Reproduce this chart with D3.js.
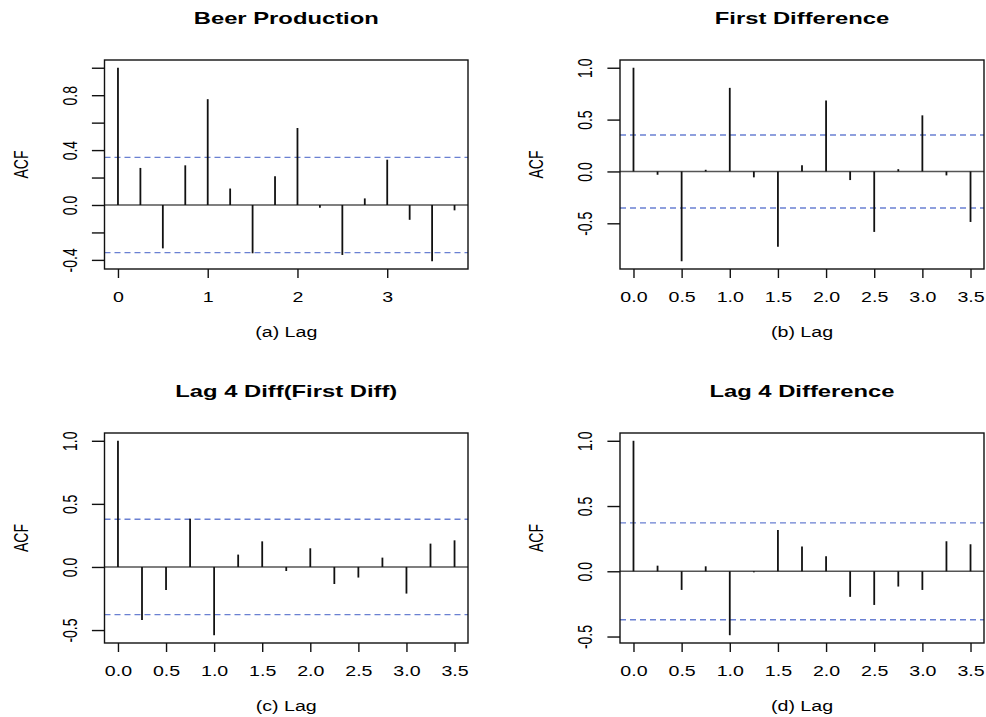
<!DOCTYPE html>
<html lang="en">
<head>
  <meta charset="UTF-8">
  <title>ACF plots</title>
  <script src="https://d3js.org/d3.v7.min.js"></script>
  <style>
    body { margin: 0; background: #fff; }
    svg text { font-family: "Liberation Sans", Arial, Helvetica, sans-serif; fill: #000; }
  </style>
</head>
<body>
  <svg width="986" height="717"></svg>
  <script>
    // lags (in years) for each panel
    const lagsBeer = [0, 0.25, 0.5, 0.75, 1, 1.25, 1.5, 1.75, 2, 2.25, 2.5, 2.75, 3, 3.25, 3.5, 3.75];
    const lagsDiff = [0, 0.25, 0.5, 0.75, 1, 1.25, 1.5, 1.75, 2, 2.25, 2.5, 2.75, 3, 3.25, 3.5];

    // autocorrelations
    const acfBeer = [1.0, 0.27, -0.316, 0.289, 0.771, 0.12, -0.352, 0.21, 0.561, -0.02, -0.364, 0.048, 0.33, -0.108, -0.41, -0.039];
    const acfFirstDiff = [1.0, -0.032, -0.866, 0.016, 0.806, -0.057, -0.726, 0.06, 0.685, -0.083, -0.583, 0.022, 0.541, -0.038, -0.487];
    const acfLag4FirstDiff = [1.0, -0.42, -0.182, 0.383, -0.541, 0.098, 0.203, -0.032, 0.148, -0.135, -0.084, 0.074, -0.211, 0.185, 0.211];
    const acfLag4Diff = [1.0, 0.043, -0.143, 0.038, -0.49, -0.008, 0.316, 0.189, 0.115, -0.196, -0.258, -0.117, -0.143, 0.23, 0.207];

    // confidence bounds (+/-)
    const ciBeer = 0.347, ciFirstDiff = 0.352, ciLag4FirstDiff = 0.378, ciLag4Diff = 0.371;

    const titles = ["Beer Production", "First Difference", "Lag 4 Diff(First Diff)", "Lag 4 Difference"];
    const xTitles = ["(a) Lag", "(b) Lag", "(c) Lag", "(d) Lag"];

    // tick values and labels
    const yTicksBeer = [-0.4, -0.2, 0, 0.2, 0.4, 0.6, 0.8, 1.0];
    const yTickLabelsBeer = ["-0.4", "", "0.0", "", "0.4", "", "0.8", ""];
    const yTicksHalf = [-0.5, 0, 0.5, 1.0];
    const yTickLabelsHalf = ["-0.5", "0.0", "0.5", "1.0"];
    const xTicksBeer = [0, 1, 2, 3];
    const xTickLabelsBeer = ["0", "1", "2", "3"];
    const xTicksHalf = [0, 0.5, 1, 1.5, 2, 2.5, 3, 3.5];
    const xTickLabelsHalf = ["0.0", "0.5", "1.0", "1.5", "2.0", "2.5", "3.0", "3.5"];

    const svg = d3.select("svg");
    const SX = 1.4; // the original picture is stretched sideways
    const ciColor = "#6a80d2";

    const panels = [
      { lags: lagsBeer, acf: acfBeer, ci: ciBeer, title: titles[0], xTitle: xTitles[0],
        yTicks: yTicksBeer, yLabels: yTickLabelsBeer, xTicks: xTicksBeer, xLabels: xTickLabelsBeer,
        x0: 104.5, x1: 468, y0: 60, y1: 269 },
      { lags: lagsDiff, acf: acfFirstDiff, ci: ciFirstDiff, title: titles[1], xTitle: xTitles[1],
        yTicks: yTicksHalf, yLabels: yTickLabelsHalf, xTicks: xTicksHalf, xLabels: xTickLabelsHalf,
        x0: 620, x1: 984, y0: 60, y1: 269 },
      { lags: lagsDiff, acf: acfLag4FirstDiff, ci: ciLag4FirstDiff, title: titles[2], xTitle: xTitles[2],
        yTicks: yTicksHalf, yLabels: yTickLabelsHalf, xTicks: xTicksHalf, xLabels: xTickLabelsHalf,
        x0: 104.5, x1: 468, y0: 433, y1: 643 },
      { lags: lagsDiff, acf: acfLag4Diff, ci: ciLag4Diff, title: titles[3], xTitle: xTitles[3],
        yTicks: yTicksHalf, yLabels: yTickLabelsHalf, xTicks: xTicksHalf, xLabels: xTickLabelsHalf,
        x0: 620, x1: 984, y0: 433, y1: 643 }
    ];

    // R-style 4% padding of the data range
    const pad = e => [e[0] - 0.04 * (e[1] - e[0]), e[1] + 0.04 * (e[1] - e[0])];

    panels.forEach(p => {
      const g = svg.append("g");

      const x = d3.scaleLinear()
                  .domain(pad(d3.extent(p.lags)))
                  .range([p.x0, p.x1]);

      const y = d3.scaleLinear()
                  .domain(pad([Math.min(d3.min(p.acf), -p.ci), Math.max(d3.max(p.acf), p.ci)]))
                  .range([p.y1, p.y0]);

      // zero line
      g.append("line")
       .attr("x1", p.x0).attr("x2", p.x1)
       .attr("y1", y(0)).attr("y2", y(0))
       .attr("stroke", "#555").attr("stroke-width", 1.4);

      // confidence bounds
      g.selectAll(".ci")
       .data([p.ci, -p.ci])
       .enter().append("line")
       .attr("class", "ci")
       .attr("x1", p.x0).attr("x2", p.x1)
       .attr("y1", d => y(d)).attr("y2", d => y(d))
       .attr("stroke", ciColor)
       .attr("stroke-width", 1.4)
       .attr("stroke-dasharray", "6,4");

      // spikes
      g.selectAll(".spike")
       .data(p.acf)
       .enter().append("line")
       .attr("class", "spike")
       .attr("x1", (d, i) => x(p.lags[i])).attr("x2", (d, i) => x(p.lags[i]))
       .attr("y1", y(0)).attr("y2", d => y(d))
       .attr("stroke", "#111").attr("stroke-width", 1.8);

      // box
      g.append("rect")
       .attr("x", p.x0).attr("y", p.y0)
       .attr("width", p.x1 - p.x0).attr("height", p.y1 - p.y0)
       .attr("fill", "none").attr("stroke", "#111").attr("stroke-width", 1.4);

      // x axis
      g.append("g")
       .attr("transform", `translate(0,${p.y1})`)
       .call(d3.axisBottom(x)
               .tickValues(p.xTicks)
               .tickFormat((d, i) => p.xLabels[i])
               .tickSize(9).tickSizeOuter(0))
       .attr("font-family", null).attr("font-size", 14)
       .call(a => a.select(".domain").remove())
       .call(a => a.selectAll("line").attr("stroke", "#111").attr("stroke-width", 1.4))
       .call(a => a.selectAll("text")
                   .attr("y", 0).attr("dy", null)
                   .attr("transform", `translate(0,33) scale(${SX},1)`));

      // y axis
      g.append("g")
       .attr("transform", `translate(${p.x0},0)`)
       .call(d3.axisLeft(y)
               .tickValues(p.yTicks)
               .tickFormat((d, i) => p.yLabels[i])
               .tickSize(12.6).tickSizeOuter(0))
       .attr("font-family", null).attr("font-size", 14)
       .call(a => a.select(".domain").remove())
       .call(a => a.selectAll("line").attr("stroke", "#111").attr("stroke-width", 1.4))
       .call(a => a.selectAll("text")
                   .attr("x", 0).attr("dy", null)
                   .attr("text-anchor", "middle")
                   .attr("transform", `translate(-28,0) scale(${SX},1) rotate(-90)`));

      // titles
      g.append("text")
       .attr("transform", `translate(${(p.x0 + p.x1) / 2},${p.y0 - 36}) scale(${SX},1)`)
       .attr("text-anchor", "middle")
       .attr("font-size", 17).attr("font-weight", "bold")
       .text(p.title);

      g.append("text")
       .attr("transform", `translate(${(p.x0 + p.x1) / 2},${p.y1 + 68}) scale(${SX},1)`)
       .attr("text-anchor", "middle")
       .attr("font-size", 14)
       .text(p.xTitle);

      g.append("text")
       .attr("transform", `translate(${p.x0 - 77},${(p.y0 + p.y1) / 2}) scale(${SX},1) rotate(-90)`)
       .attr("text-anchor", "middle")
       .attr("font-size", 14)
       .text("ACF");
    });
  </script>
</body>
</html>
